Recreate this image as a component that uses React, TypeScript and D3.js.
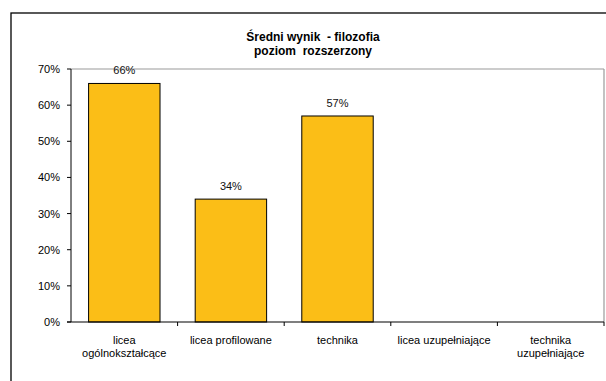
import React from "react";
import * as d3 from "d3";

const categories: string[][] = [
  ["licea", "ogólnokształcące"],
  ["licea profilowane"],
  ["technika"],
  ["licea uzupełniające"],
  ["technika", "uzupełniające"],
];
const values: (number | null)[] = [0.66, 0.34, 0.57, null, null];
const yTicks: number[] = [0, 0.1, 0.2, 0.3, 0.4, 0.5, 0.6, 0.7];
const titleLines: string[] = ["Średni wynik  - filozofia", "poziom  rozszerzony"];

const W = 606;
const H = 381;
const plot = { left: 71, right: 604, top: 69, bottom: 322 };
const font = "'Liberation Sans', Arial, sans-serif";

export default function App() {
  const x = d3
    .scaleBand<number>()
    .domain(categories.map((_, i) => i))
    .range([plot.left, plot.right])
    .paddingInner(0.33)
    .paddingOuter(0.165);
  const y = d3.scaleLinear().domain([0, 0.7]).range([plot.bottom, plot.top]);
  const step = (plot.right - plot.left) / categories.length;
  const fmt = d3.format(".0%");

  return (
    <svg
      width={W}
      height={H}
      style={{ position: "absolute", left: 0, top: 0, background: "#fff" }}
      fontFamily={font}
    >
      <rect x={0} y={0} width={W} height={H} fill="#fff" />
      <rect x={11} y={13} width={W + 20} height={H + 20} fill="none" stroke="#000" strokeWidth={1.3} />
      {/* plot frame */}
      <line x1={plot.left} x2={plot.right} y1={plot.top} y2={plot.top} stroke="#9a9a9a" strokeWidth={1.2} />
      <line x1={plot.right} x2={plot.right} y1={plot.top} y2={plot.bottom} stroke="#9a9a9a" strokeWidth={1.2} />
      {/* title */}
      {titleLines.map((t, i) => (
        <text
          key={i}
          x={313}
          y={41 + i * 14}
          textAnchor="middle"
          fontSize={12}
          fontWeight="bold"
          fill="#000"
          style={{ whiteSpace: "pre" }}
        >
          {t}
        </text>
      ))}
      {/* bars */}
      {values.map((v, i) =>
        v == null ? null : (
          <g key={i}>
            <rect
              x={x(i)!}
              y={y(v)}
              width={x.bandwidth()}
              height={y(0) - y(v)}
              fill="#FBBE17"
              stroke="#000"
              strokeWidth={1}
            />
            <text
              x={x(i)! + x.bandwidth() / 2}
              y={y(v) - 9}
              textAnchor="middle"
              fontSize={11}
              fill="#111"
            >
              {fmt(v)}
            </text>
          </g>
        )
      )}
      {/* y axis */}
      <line x1={plot.left} x2={plot.left} y1={plot.top} y2={plot.bottom} stroke="#000" strokeWidth={1} />
      {yTicks.map((t) => (
        <g key={t}>
          <line x1={plot.left - 4} x2={plot.left} y1={y(t)} y2={y(t)} stroke="#000" />
          <text x={plot.left - 11} y={y(t) + 4} textAnchor="end" fontSize={11} fill="#000">
            {fmt(t)}
          </text>
        </g>
      ))}
      {/* x axis */}
      <line x1={plot.left - 4} x2={plot.right} y1={plot.bottom} y2={plot.bottom} stroke="#000" strokeWidth={1.2} />
      {categories.map((c, i) => (
        <g key={i}>
          <line
            x1={plot.left + step * (i + 1)}
            x2={plot.left + step * (i + 1)}
            y1={plot.bottom}
            y2={plot.bottom + 4}
            stroke="#000"
          />
          {c.map((line, j) => (
            <text
              key={j}
              x={x(i)! + x.bandwidth() / 2}
              y={344 + j * 13}
              textAnchor="middle"
              fontSize={11}
              fill="#000"
            >
              {line}
            </text>
          ))}
        </g>
      ))}
    </svg>
  );
}
